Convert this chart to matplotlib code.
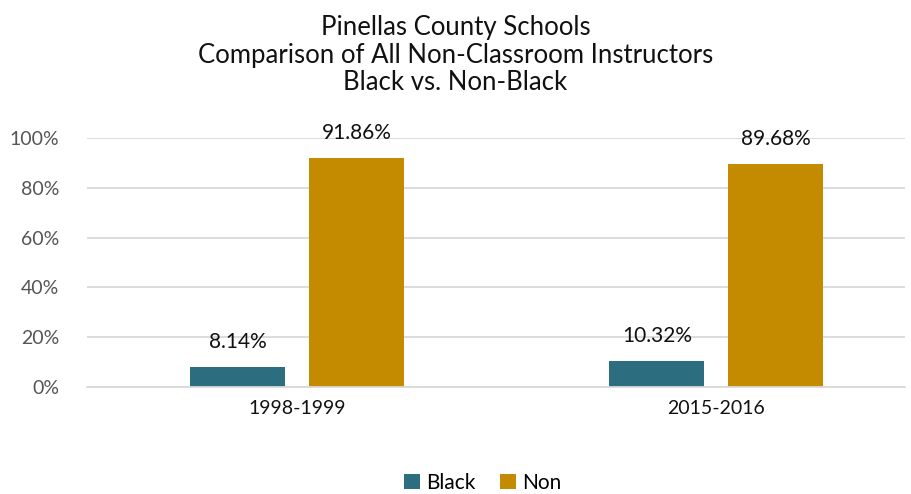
import matplotlib
matplotlib.use('Agg')
import matplotlib.pyplot as plt
import numpy as np

categories = ["1998-1999", "2015-2016"]
black = [8.14, 10.32]
non_black = [91.86, 89.68]
series_names = ["Black", "Non"]
yticks = [0, 20, 40, 60, 80, 100]

plt.rcParams['font.family'] = ['Lato', 'DejaVu Sans']

fig = plt.figure(figsize=(9.11, 4.94), dpi=100, facecolor='white')
ax = fig.add_axes([87 / 911, 1 - 387 / 494, (905 - 87) / 911, (387 - 138) / 494])

x = np.arange(len(categories))
w = 0.227
off = 0.142
b1 = ax.bar(x - off, black, w, color='#2C6E7F', label=series_names[0])
b2 = ax.bar(x + off, non_black, w, color='#C48A00', label=series_names[1])

for bars, vals in [(b1, black), (b2, non_black)]:
    for r, v in zip(bars, vals):
        ax.text(r.get_x() + r.get_width() / 2, v + 6, f"{v:.2f}%",
                ha='center', va='bottom', fontsize=15, color='#111111')

ax.set_xlim(-0.501, 1.45)
ax.set_ylim(0, 100)
ax.set_yticks(yticks)
ax.set_yticklabels([f"{t}%" for t in yticks], fontsize=14, color='#555555')
ax.set_xticks(x)
ax.set_xticklabels(categories, fontsize=14, color='#111111')
ax.tick_params(length=0, pad=9)
ax.tick_params(axis='y', pad=20)

ax.yaxis.grid(True, color='#D9D9D9', linewidth=1.3)
ax.set_axisbelow(True)
for s in ['top', 'right', 'left']:
    ax.spines[s].set_visible(False)
ax.spines['bottom'].set_color('#D9D9D9')
ax.spines['bottom'].set_linewidth(1.3)

fig.text(0.5, 1 - 55 / 494,
         "Pinellas County Schools\nComparison of All Non-Classroom Instructors\nBlack vs. Non-Black",
         ha='center', va='center', fontsize=18.5, color='#111111', linespacing=1.15)

fig.legend(handles=[b1, b2], loc='center', bbox_to_anchor=(0.53, 1 - 483 / 494),
           ncol=2, frameon=False, fontsize=15, handlelength=0.75, handleheight=0.75,
           handletextpad=0.3, columnspacing=1.2)

plt.savefig('out.png', dpi=100, facecolor='white')
plt.close()
